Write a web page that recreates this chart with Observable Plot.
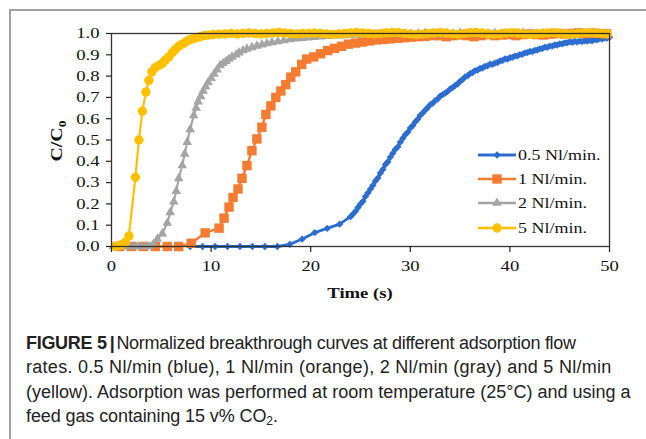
<!DOCTYPE html>
<html><head><meta charset="utf-8">
<script src="https://cdn.jsdelivr.net/npm/d3@7"></script>
<script src="https://cdn.jsdelivr.net/npm/@observablehq/plot@0.6"></script>
<style>
html,body{margin:0;padding:0;background:#fff;}
body{width:646px;height:439px;overflow:hidden;position:relative;font-family:"Liberation Sans",Arial,sans-serif;}
#vline{position:absolute;left:9px;top:9px;width:2px;height:430px;background:#a0a0a0;}
#hline{position:absolute;left:9px;top:9px;width:637px;height:2px;background:#a0a0a0;}
#chart{position:absolute;left:0;top:0;}
#caption{position:absolute;left:26px;top:331px;font-size:18px;line-height:24.4px;color:#222;white-space:nowrap;}
#caption b{font-weight:bold;letter-spacing:-0.3px;}
#caption .bar{font-weight:bold;margin:0 2px 0 3px;}
#caption sub{font-size:12px;vertical-align:-3px;line-height:0;}
#l1{letter-spacing:-0.28px;}
#l2{letter-spacing:0.28px;}
#l4{letter-spacing:-0.1px;}
</style></head>
<body>
<div id="hline"></div><div id="vline"></div>
<div id="chart"></div>
<div id="caption"><span id="l1"><b>FIGURE 5</b><span class="bar">|</span>Normalized breakthrough curves at different adsorption flow</span><br><span id="l2">rates. 0.5 Nl/min (blue), 1 Nl/min (orange), 2 Nl/min (gray) and 5 Nl/min</span><br><span id="l3">(yellow). Adsorption was performed at room temperature (25°C) and using a</span><br><span id="l4">feed gas containing 15 v% CO<sub>2</sub>.</span></div>
<script>
// ---- data ----
const seriesNames = ["0.5 Nl/min.", "1 Nl/min.", "2 Nl/min.", "5 Nl/min."];
const seriesColors = ["#2C6ED0", "#F47B30", "#A5A5A5", "#FFC000"];
const xTicks = [0, 10, 20, 30, 40, 50];
const yTicks = [0, 0.1, 0.2, 0.3, 0.4, 0.5, 0.6, 0.7, 0.8, 0.9, 1.0];

const blueT = [7.9,9.15,10.4,11.65,12.9,14.15,15.4,16.65,17.9,19.15,20.4,21.65,22.9,24.0,24.25,24.5,24.75,25.0,25.25,25.5,25.75,26.0,26.25,26.5,26.75,27.0,27.25,27.5,27.75,28.0,28.25,28.5,28.75,29.0,29.25,29.5,29.75,30.0,30.25,30.5,30.75,31.0,31.25,31.5,31.75,32.0,32.25,32.5,32.75,33.0,33.25,33.5,33.75,34.0,34.25,34.5,34.75,35.0,35.25,35.5,35.75,36.0,36.25,36.5,36.75,37.0,37.25,37.5,37.75,38.0,38.25,38.5,38.75,39.0,39.25,39.5,39.75,40.0,40.25,40.5,40.75,41.0,41.25,41.5,41.75,42.0,42.25,42.5,42.75,43.0,43.25,43.5,43.75,44.0,44.25,44.5,44.75,45.0,45.25,45.5,45.75,46.0,46.25,46.5,46.75,47.0,47.25,47.5,47.75,48.0,48.25,48.5,48.75,49.0,49.25,49.5,49.75,50.0];
const blueV = [0,0,0,0,0,0,0,0,0.01,0.035,0.065,0.085,0.105,0.14,0.152,0.165,0.183,0.2,0.212,0.235,0.252,0.27,0.287,0.308,0.322,0.345,0.362,0.385,0.398,0.42,0.438,0.456,0.468,0.49,0.508,0.525,0.537,0.556,0.568,0.585,0.598,0.616,0.627,0.64,0.652,0.666,0.672,0.685,0.692,0.706,0.713,0.72,0.728,0.74,0.746,0.756,0.763,0.776,0.784,0.796,0.801,0.812,0.816,0.826,0.828,0.836,0.838,0.846,0.848,0.856,0.855,0.861,0.864,0.871,0.873,0.881,0.88,0.886,0.888,0.894,0.895,0.901,0.902,0.909,0.91,0.916,0.915,0.921,0.922,0.928,0.929,0.936,0.935,0.941,0.941,0.946,0.946,0.951,0.951,0.956,0.956,0.961,0.959,0.963,0.96,0.964,0.962,0.966,0.964,0.968,0.966,0.971,0.97,0.976,0.974,0.979,0.978,0.982];

const orangeT = [0.8,2.0,3.2,4.4,5.6,6.75,8.0,9.4,10.8,11.3,11.8,12.2,12.7,13.1,13.6,14.1,14.6,15.1,15.5,16.0,16.5,17.0,17.5,18.0,18.5,19.1,19.6,20.3,21.0,21.7,22.4,23.1,23.8,24.5,25.2,25.9,26.6,27.3,28.0,28.7,29.4,30.1,30.8,31.5,32.2,32.9,33.6,34.3,35.0,35.7,36.4,37.1,37.8,38.5,39.2,39.9,40.6,41.3,42.0,42.7,43.4,44.1,44.8,45.5,46.2,46.9,47.6,48.3,49.0,49.7];
const orangeV = [0,0,0,0,0,0,0.015,0.064,0.086,0.133,0.185,0.23,0.27,0.32,0.38,0.45,0.505,0.56,0.62,0.66,0.7,0.73,0.76,0.795,0.82,0.855,0.88,0.89,0.905,0.92,0.93,0.94,0.95,0.955,0.96,0.965,0.97,0.972,0.975,0.978,0.98,0.983,0.985,0.987,0.99,0.99,0.985,0.99,0.993,0.99,0.985,0.99,0.995,0.99,0.993,0.995,0.99,0.995,0.998,0.995,0.993,0.997,1.0,0.998,1.0,1.003,1.0,1.002,1.0,0.998];

const grayT = [0.2,0.6,1.0,1.4,1.8,2.2,2.6,3.0,3.4,3.8,4.2,4.6,5.1,5.6,5.9,6.25,6.5,6.75,7.1,7.35,7.6,7.9,8.25,8.5,8.7,8.95,9.2,9.45,9.7,10.0,10.3,10.6,10.9,11.2,11.5,11.8,12.1,12.5,12.8,13.2,13.6,14.1,14.6,15.1,15.6,16.1,16.7,17.3,17.9,18.5,19.1,19.7,20.3,21.0,21.7,22.4,23.1,23.8,24.5,25.2,25.9,26.6,27.3,28.0,28.7,29.4,30.1,30.8,31.5,32.2,32.9,33.6,34.3,35.0,35.7,36.4,37.1,37.8,38.5,39.2,39.9,40.6,41.3,42.0,42.7,43.4,44.1,44.8,45.5,46.2,46.9,47.6,48.3,49.0,49.7];
const grayV = [0,0,0,0,0,0,0,0,0,0,0.01,0.035,0.06,0.11,0.16,0.21,0.26,0.32,0.38,0.435,0.49,0.55,0.615,0.65,0.68,0.705,0.73,0.75,0.77,0.79,0.81,0.83,0.85,0.86,0.87,0.88,0.89,0.9,0.91,0.92,0.928,0.935,0.942,0.948,0.953,0.958,0.963,0.967,0.972,0.975,0.978,0.98,0.983,0.985,0.987,0.99,0.99,0.992,0.993,0.995,0.997,0.995,0.998,1.0,0.997,0.995,0.998,1.0,1.002,0.998,0.996,0.998,1.0,1.003,1.0,0.997,0.998,1.0,1.002,1.0,0.998,1.0,1.003,1.0,0.998,1.0,1.002,1.0,0.998,1.0,1.002,1.0,0.999,1.0,1.0];

const yellowT = [0.4,0.75,1.1,1.4,1.75,2.4,2.75,3.1,3.45,3.75,4.05,4.4,4.75,5.1,5.4,5.75,6.1,6.4,6.75,7.1,7.45,7.8,8.1,8.5,8.9,9.3,9.7,10.2,10.8,11.4,12.0,12.6,13.2,13.8,14.4,15.0,15.6,16.2,16.8,17.4,18.0,18.6,19.2,19.8,20.4,21.0,21.6,22.2,22.8,23.4,24.0,24.6,25.2,25.8,26.4,27.0,27.6,28.2,28.8,29.4,30.0,30.6,31.2,31.8,32.4,33.0,33.6,34.2,34.8,35.4,36.0,36.6,37.2,37.8,38.4,39.0,39.6,40.2,40.8,41.4,42.0,42.6,43.2,43.8,44.4,45.0,45.6,46.2,46.8,47.4,48.0,48.6,49.2,49.8];
const yellowV = [0,0.005,0.01,0.02,0.05,0.325,0.5,0.635,0.725,0.78,0.82,0.84,0.85,0.86,0.875,0.89,0.91,0.925,0.94,0.95,0.96,0.97,0.975,0.98,0.985,0.99,0.992,0.995,0.997,0.998,1.0,0.998,1.0,1.002,1.0,0.998,1.0,1.003,1.005,1.002,1.0,0.998,1.0,1.0,1.002,1.0,0.998,0.996,0.998,1.0,1.003,1.005,1.003,1.0,0.998,1.0,1.003,1.005,1.004,1.0,0.997,0.995,0.997,1.0,1.003,1.005,1.002,0.998,0.996,1.0,1.004,1.005,1.002,0.998,0.996,0.998,1.002,1.004,1.002,0.998,0.996,0.998,1.0,1.003,1.004,1.001,0.998,0.997,1.0,1.003,1.004,1.002,1.0,0.998];

// ---- build ----
const mk = (T, V) => T.map((t, i) => ({t, v: V[i]}));
const series = [
  {data: mk(blueT, blueV), symbol: "diamond2", r: 3.3, sw: 2.8},
  {data: mk(orangeT, orangeV), symbol: "square", r: 5.3, sw: 2.4},
  {data: mk(grayT, grayV), symbol: "triangle", r: 3.6, sw: 2.2},
  {data: mk(yellowT, yellowV), symbol: "circle", r: 4.7, sw: 2.2}
];
const serif = "'Liberation Serif','Times New Roman',serif";
const marks = [];
series.forEach((s, i) => {
  marks.push(Plot.line(s.data, {x: "t", y: "v", stroke: seriesColors[i], strokeWidth: s.sw}));
  marks.push(Plot.dot(s.data, {x: "t", y: "v", symbol: s.symbol, r: s.r, fill: seriesColors[i], stroke: "none"}));
});

const svg = Plot.plot({
  width: 646, height: 305,
  marginLeft: 111, marginRight: 37, marginTop: 33, marginBottom: 59,
  style: {fontFamily: serif, fontSize: "15px", color: "#111", background: "transparent", overflow: "visible"},
  x: {domain: [0, 50]},
  y: {domain: [0, 1]},
  marks: [
    ...marks,
    Plot.frame({stroke: "#333", strokeWidth: 1.3}),
    Plot.axisX({ticks: xTicks, tickSize: 6, tickPadding: 8, label: null, stroke: "#222", strokeWidth: 1.2, fill: "#111"}),
    Plot.axisY({ticks: yTicks, tickFormat: d => d.toFixed(1), tickSize: 5, tickPadding: 7, label: null, stroke: "#222", strokeWidth: 1.2, fill: "#111"})
  ]
});
document.getElementById("chart").appendChild(svg);

const g = d3.select(svg).append("g").attr("font-family", serif).attr("fill", "#111");
// axis titles
g.append("text").attr("x", 360).attr("y", 298).attr("text-anchor", "middle")
  .attr("font-weight", "bold").attr("font-size", "15px").text("Time (s)");
const yl = g.append("text").attr("transform", "translate(62,141) rotate(-90)").attr("text-anchor", "middle")
  .attr("font-weight", "bold").attr("font-size", "16px");
yl.append("tspan").text("C/C");
yl.append("tspan").attr("font-size", "11px").attr("dy", "4").text("0");

// legend
const symTypes = [d3.symbolDiamond2, d3.symbolSquare, d3.symbolTriangle, d3.symbolCircle];
const legY = [155, 179, 203, 228];
seriesNames.forEach((name, i) => {
  const y = legY[i];
  g.append("line").attr("x1", 478).attr("x2", 516).attr("y1", y).attr("y2", y)
    .attr("stroke", seriesColors[i]).attr("stroke-width", series[i].sw + 0.2);
  g.append("path").attr("d", d3.symbol(symTypes[i], Math.PI * series[i].r * series[i].r)())
    .attr("transform", `translate(497,${y})`).attr("fill", seriesColors[i]);
  g.append("text").attr("x", 518).attr("y", y).attr("dy", "0.36em").attr("text-anchor", "start")
    .attr("font-size", "14.5px").text(name);
});

// horizontally stretch serif text to match the reference's wide lettering
d3.select(svg).selectAll("text").each(function() {
  const len = this.getComputedTextLength();
  if (len > 0) {
    this.setAttribute("textLength", (len * 1.24).toFixed(1));
    this.setAttribute("lengthAdjust", "spacingAndGlyphs");
  }
});
</script>
</body></html>
